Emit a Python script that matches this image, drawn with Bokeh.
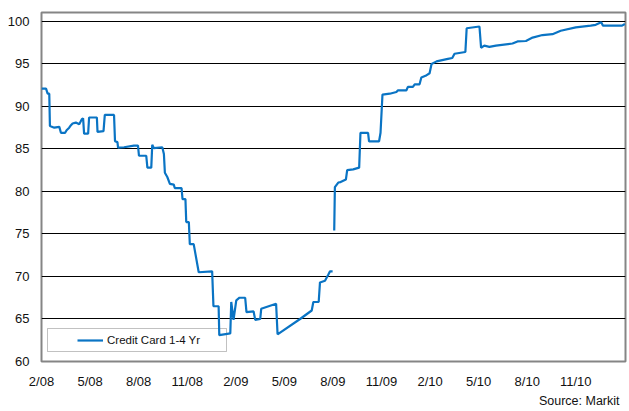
from bokeh.plotting import figure
from bokeh.models import (Range1d, FixedTicker, Legend, LegendItem, BoxAnnotation, Title)
from bokeh.embed import file_html
from bokeh.resources import INLINE

# months since Feb 2008 (fractional), index level
seg1_months = [0.00, 0.28, 0.38, 0.48, 0.52, 0.79, 1.10, 1.20, 1.46, 1.55, 1.71, 1.82, 1.92, 2.12,
               2.33, 2.49, 2.57, 2.63, 2.88, 2.94, 3.42, 3.46, 3.83, 3.91, 4.48, 4.54, 4.69, 4.73,
               5.10, 5.71, 5.96, 6.02, 6.47, 6.54, 6.78, 6.84, 6.94, 7.46, 7.56, 7.62, 7.77, 7.93,
               8.17, 8.23, 8.65, 8.71, 8.89, 8.94, 9.10, 9.16, 9.40, 9.71, 10.54, 10.62, 10.94,
               10.98, 11.66, 11.72, 11.86, 12.03, 12.23, 12.58, 12.66, 13.10, 13.20, 13.51, 13.57,
               14.49, 14.58, 15.97, 16.69, 16.79, 17.12, 17.20, 17.51, 17.71, 17.82, 17.98]
seg1_values = [92.1, 92.1, 91.5, 91.5, 87.7, 87.5, 87.6, 86.9, 86.9, 87.2, 87.5, 87.8, 88.0, 88.1,
               87.9, 88.5, 88.6, 86.8, 86.8, 88.7, 88.7, 87.0, 87.1, 89.0, 89.0, 85.9, 85.8, 85.15,
               85.2, 85.4, 85.4, 84.2, 84.2, 82.8, 82.8, 85.5, 85.1, 85.2, 84.4, 82.2, 81.7, 80.9,
               80.8, 80.4, 80.4, 79.1, 79.1, 76.4, 76.4, 73.8, 73.8, 70.5, 70.6, 66.5, 66.5,
               63.1, 63.3, 67.0, 64.9, 67.2, 67.5, 67.5, 65.8, 65.9, 64.9, 65.0, 66.2,
               66.8, 63.2, 65.0, 66.0, 67.0, 67.0, 69.3, 69.5, 70.2, 70.6, 70.6]

seg2_months = [18.08, 18.12, 18.33, 18.47, 18.80, 18.88, 19.25, 19.62, 19.70, 20.17, 20.23, 20.85,
               20.94, 21.06, 21.51, 21.92, 22.02, 22.54, 22.63, 22.94, 23.05, 23.35, 23.46, 23.72,
               23.97, 24.09, 24.40, 25.10, 25.37, 25.51, 26.18, 26.26, 27.05, 27.15, 27.35, 27.66,
               28.07, 29.09, 29.40, 29.92, 30.33, 30.94, 31.56, 32.07, 33.00, 33.92, 34.23, 34.57,
               34.68, 35.86, 36.03]
seg2_values = [75.4, 80.5, 81.05, 81.1, 81.4, 82.5, 82.6, 82.8, 86.9, 86.9, 85.9, 85.9,
               86.9, 91.4, 91.5, 91.7, 91.9, 91.9, 92.3, 92.3, 92.6, 92.6, 93.4, 93.6,
               93.9, 95.0, 95.3, 95.6, 95.7, 96.2, 96.4, 99.2, 99.4, 96.9, 97.15, 97.0,
               97.15, 97.4, 97.65, 97.7, 98.1, 98.4, 98.5, 98.9, 99.3, 99.5, 99.6, 99.9,
               99.5, 99.5, 99.7]

tick_positions = [0, 3, 6, 9, 12, 15, 18, 21, 24, 27, 30, 33]
tick_labels = ["2/08", "5/08", "8/08", "11/08", "2/09", "5/09", "8/09", "11/09",
               "2/10", "5/10", "8/10", "11/10"]
y_ticks = [60, 65, 70, 75, 80, 85, 90, 95, 100]

series_name = "Credit Card 1-4 Yr"
source_text = "Source: Markit"

FONT = "Liberation Sans"
LINE_COLOR = "#0a74c4"

p = figure(width=629, height=411, output_backend="svg", toolbar_location=None,
           x_range=Range1d(0, 36.07), y_range=Range1d(60, 101.05),
           min_border_left=41, min_border_right=4, min_border_top=12, min_border_bottom=50)

p.background_fill_color = "white"
p.border_fill_color = "white"
p.outline_line_color = "#858585"
p.outline_line_width = 2

p.xgrid.visible = False
p.ygrid.ticker = FixedTicker(ticks=y_ticks)
p.ygrid.grid_line_color = "black"
p.ygrid.grid_line_width = 1

p.xaxis.ticker = FixedTicker(ticks=tick_positions)
p.xaxis.major_label_overrides = {t: l for t, l in zip(tick_positions, tick_labels)}
p.yaxis.ticker = FixedTicker(ticks=y_ticks)
for ax in (p.xaxis, p.yaxis):
    ax.axis_line_color = None
    ax.major_tick_line_color = None
    ax.minor_tick_line_color = None
    ax.major_tick_out = 0
    ax.major_tick_in = 0
    ax.minor_tick_out = 0
    ax.major_label_text_font = FONT
    ax.major_label_text_font_size = "13px"
    ax.major_label_text_color = "#111111"
p.xaxis.major_label_standoff = 12
p.yaxis.major_label_standoff = 12

box = BoxAnnotation(left=6, right=185, bottom=10, top=33,
                    left_units="screen", right_units="screen",
                    bottom_units="screen", top_units="screen",
                    fill_color="white", fill_alpha=1.0,
                    line_color="#333333", line_width=1, level="underlay")
p.add_layout(box)

r1 = p.line(seg1_months, seg1_values, line_color=LINE_COLOR, line_width=2.2)
r2 = p.line(seg2_months, seg2_values, line_color=LINE_COLOR, line_width=2.2)

legend = Legend(items=[LegendItem(label=series_name, renderers=[r1])],
                location=(36, 13), padding=0, margin=0, spacing=0,
                glyph_width=26, glyph_height=16, label_height=16, label_standoff=4,
                border_line_color=None, background_fill_alpha=0,
                label_text_font=FONT, label_text_font_size="11.5px", label_text_color="#111111")
p.add_layout(legend, "center")

src = Title(text=source_text, align="right", text_font=FONT, text_font_size="12.5px",
            text_font_style="normal", text_color="#111111", standoff=0, offset=6)
p.add_layout(src, "below")

html = file_html(p, INLINE)
open("out.html", "w").write(html)
